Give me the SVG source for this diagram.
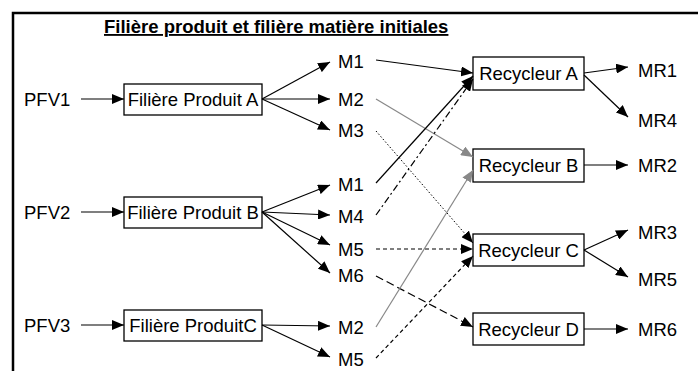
<svg xmlns="http://www.w3.org/2000/svg" width="698" height="371" viewBox="0 0 698 371">
<defs>
<marker id="ah" markerUnits="userSpaceOnUse" markerWidth="12" markerHeight="10" refX="12" refY="5" orient="auto"><path d="M0,0 L12,5 L0,10 z" fill="#000"/></marker>
<marker id="ahg" markerUnits="userSpaceOnUse" markerWidth="12" markerHeight="10" refX="12" refY="5" orient="auto"><path d="M0,0 L12,5 L0,10 z" fill="#888"/></marker>
<style>
text{font-family:"Liberation Sans",Arial,sans-serif;font-size:18.5px;fill:#000}
.t{font-weight:bold;text-decoration:underline}
.c{text-anchor:middle}
.box{fill:#fff;stroke:#000;stroke-width:1.3}
.ln{fill:none;stroke:#000;stroke-width:1.2;marker-end:url(#ah)}
.g{stroke:#888;marker-end:url(#ahg)}
.dot{stroke-dasharray:1.5 2;stroke-width:1}
.dd{stroke-dasharray:7 3 2 3}
.ds{stroke-dasharray:4 3}
.ld{stroke-dasharray:8 4}
</style>
</defs>
<rect width="698" height="371" fill="#fff"/>
<path d="M13,371 V13 H698" fill="none" stroke="#000" stroke-width="2.5"/>
<text class="t" x="104" y="33">Filière produit et filière matière initiales</text>

<g id="pfv1"><text x="24" y="105.5">PFV1</text></g>
<g id="pfv2"><text x="24" y="218.5">PFV2</text></g>
<g id="pfv3"><text x="24" y="331.5">PFV3</text></g>

<g id="filA"><rect class="box" x="124" y="84" width="138" height="31"/><text class="c" x="193" y="105.5">Filière Produit A</text></g>
<g id="filB"><rect class="box" x="124" y="197" width="138" height="31"/><text class="c" x="193" y="218.5">Filière Produit B</text></g>
<g id="filC"><rect class="box" x="124" y="310" width="138" height="31"/><text class="c" x="193" y="331.5">Filière ProduitC</text></g>

<g id="m1a"><text x="338" y="68">M1</text></g>
<g id="m2a"><text x="338" y="105.5">M2</text></g>
<g id="m3a"><text x="338" y="137">M3</text></g>
<g id="m1b"><text x="338" y="191">M1</text></g>
<g id="m4b"><text x="338" y="222.5">M4</text></g>
<g id="m5b"><text x="338" y="255.5">M5</text></g>
<g id="m6b"><text x="338" y="281.5">M6</text></g>
<g id="m2c"><text x="338" y="333.5">M2</text></g>
<g id="m5c"><text x="338" y="365.5">M5</text></g>

<g id="recA"><rect class="box" x="473" y="57" width="111" height="33"/><text class="c" x="528.5" y="80">Recycleur A</text></g>
<g id="recB"><rect class="box" x="473" y="149" width="111" height="33"/><text class="c" x="528.5" y="172">Recycleur B</text></g>
<g id="recC"><rect class="box" x="473" y="234" width="111" height="32"/><text class="c" x="528.5" y="256.5">Recycleur C</text></g>
<g id="recD"><rect class="box" x="473" y="313" width="111" height="32"/><text class="c" x="528.5" y="335.5">Recycleur D</text></g>

<g id="mr1"><text x="638" y="76.5">MR1</text></g>
<g id="mr4"><text x="638" y="126.5">MR4</text></g>
<g id="mr2"><text x="638" y="171.5">MR2</text></g>
<g id="mr3"><text x="638" y="238.5">MR3</text></g>
<g id="mr5"><text x="638" y="285.5">MR5</text></g>
<g id="mr6"><text x="638" y="335.5">MR6</text></g>

<g id="connectors">
<line class="ln" x1="81" y1="99" x2="124" y2="99"/>
<line class="ln" x1="81" y1="212" x2="124" y2="212"/>
<line class="ln" x1="81" y1="325" x2="124" y2="325"/>

<line class="ln" x1="262" y1="99" x2="330" y2="62"/>
<line class="ln" x1="262" y1="99" x2="330" y2="99"/>
<line class="ln" x1="262" y1="99" x2="330" y2="130"/>
<line class="ln" x1="262" y1="212" x2="330" y2="185"/>
<line class="ln" x1="262" y1="212" x2="330" y2="215"/>
<line class="ln" x1="262" y1="212" x2="330" y2="245"/>
<line class="ln" x1="262" y1="212" x2="330" y2="273"/>
<line class="ln" x1="262" y1="325" x2="330" y2="326"/>
<line class="ln" x1="262" y1="325" x2="330" y2="357"/>

<line class="ln" x1="376" y1="60" x2="473" y2="73"/>
<line class="ln g" x1="376" y1="99" x2="473" y2="157"/>
<line class="ln dot" x1="376" y1="131" x2="473" y2="243"/>
<line class="ln" x1="376" y1="183" x2="473" y2="76"/>
<line class="ln dd" x1="376" y1="215" x2="473" y2="79"/>
<line class="ln ds" x1="376" y1="249" x2="473" y2="249"/>
<line class="ln ld" x1="376" y1="276" x2="473" y2="327"/>
<line class="ln g" x1="376" y1="327" x2="473" y2="170"/>
<line class="ln ds" x1="376" y1="358" x2="473" y2="256"/>

<line class="ln" x1="584" y1="73" x2="628" y2="67"/>
<line class="ln" x1="584" y1="75" x2="628" y2="117"/>
<line class="ln" x1="584" y1="165" x2="628" y2="165"/>
<line class="ln" x1="584" y1="250" x2="628" y2="230"/>
<line class="ln" x1="584" y1="250" x2="628" y2="277"/>
<line class="ln" x1="584" y1="329" x2="628" y2="329"/>
</g>
</svg>
